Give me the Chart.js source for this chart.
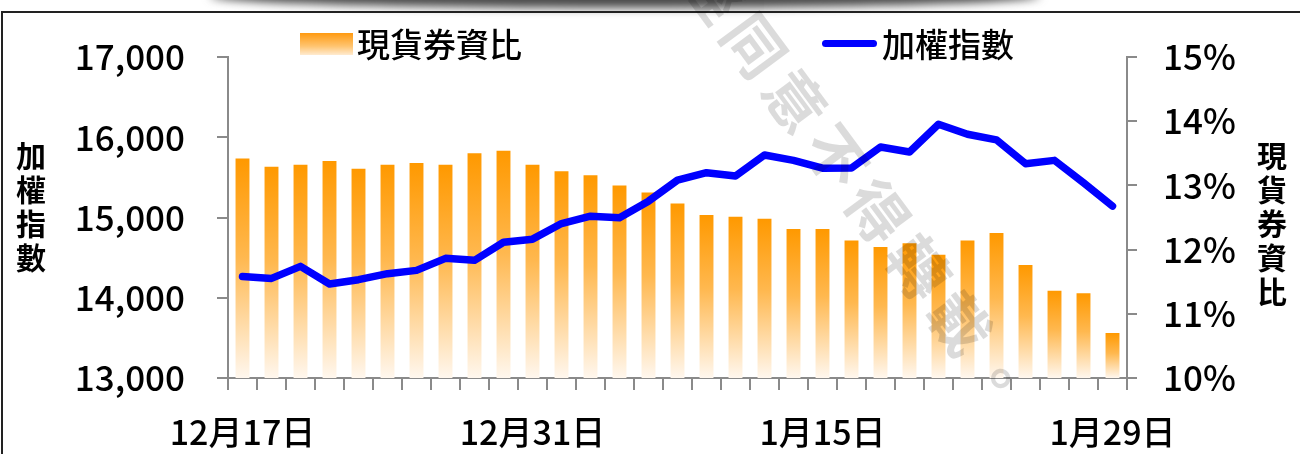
<!DOCTYPE html>
<html>
<head>
<meta charset="utf-8">
<script src="https://cdn.jsdelivr.net/npm/chart.js@4.4.1/dist/chart.umd.min.js"></script>
<style>
  html, body { margin: 0; padding: 0; background: #fff; }
  #wrap { position: relative; width: 1300px; height: 454px; overflow: hidden; background: #fff; }
  #c { position: absolute; left: 0; top: 0; }
  .ov { position: absolute; pointer-events: none; font-family: 'Noto Sans CJK TC', 'Noto Sans', sans-serif; color: #000; white-space: nowrap; }
  #shadow { left: 210px; top: -16px; width: 830px; height: 24px; background: #4a4a4a; border-radius: 50%; filter: blur(5px); }
  #frame { left: 1px; top: 11px; width: 1400px; height: 500px; border-top: 2px solid #222; border-left: 2px solid #222; }
  .ytitle { font-size: 30px; font-weight: bold; line-height: 34px; text-align: center; width: 40px; }
  .legtxt { font-size: 33px; line-height: 33px; font-weight: 500; }
  #wm { left: 698px; top: -66px; font-size: 60px; line-height: 60px; letter-spacing: 9px; font-weight: bold;
        color: rgba(0,0,0,0.14); transform-origin: 0 50%; transform: rotate(53.5deg); }
</style>
</head>
<body>
<div id="wrap">
  <canvas id="c" width="1300" height="454"></canvas>
  <div class="ov" id="shadow"></div>
  <div class="ov" id="frame"></div>
  <div class="ov ytitle" id="ytl" style="left:11px; top:137px;">加<br>權<br>指<br>數</div>
  <div class="ov ytitle" id="ytr" style="left:1252px; top:137px;">現<br>貨<br>券<br>資<br>比</div>
  <div class="ov" id="legBar" style="left:300px; top:33px; width:53px; height:22px; background: linear-gradient(#FF9A10, #FFC470 60%, #FFEBD0);"></div>
  <div class="ov legtxt" id="legBarTxt" style="left:357px; top:27px;">現貨券資比</div>
  <div class="ov" id="legLine" style="left:822px; top:40px; width:55px; height:7px; background:#0000FF; border-radius:4px;"></div>
  <div class="ov legtxt" id="legLineTxt" style="left:882px; top:27px;">加權指數</div>
  <div class="ov" id="wm">經同意不得轉載。</div>
</div>
<script>
// ---- data ----
const dates = ['12月17日','12月18日','12月21日','12月22日','12月23日','12月24日','12月25日','12月28日','12月29日','12月30日','12月31日',
               '1月4日','1月5日','1月6日','1月7日','1月8日','1月11日','1月12日','1月13日','1月14日','1月15日',
               '1月18日','1月19日','1月20日','1月21日','1月22日','1月25日','1月26日','1月27日','1月28日','1月29日'];
const shownDates = ['12月17日','12月31日','1月15日','1月29日'];
const ratioSeriesName = '現貨券資比';
const indexSeriesName = '加權指數';
const ratioValues = [13.42,13.29,13.32,13.38,13.26,13.32,13.35,13.32,13.50,13.54,13.32,
                     13.22,13.16,13.00,12.89,12.72,12.54,12.51,12.48,12.32,12.32,
                     12.14,12.04,12.10,11.92,12.14,12.26,11.76,11.36,11.32,10.70];
const indexValues = [14266,14241,14391,14171,14225,14300,14341,14491,14466,14691,14730,
                     14925,15016,14996,15204,15466,15558,15516,15779,15712,15615,
                     15617,15879,15816,16162,16037,15967,15671,15712,15433,15142];
const leftTicks = [13000,14000,15000,16000,17000];
const rightTicks = [10,11,12,13,14,15];

const FONT = "'Noto Sans CJK TC', 'Noto Sans', sans-serif";

function barGradient(c) {
  const chart = c.chart;
  const area = chart.chartArea;
  if (!area || c.type !== 'data' || !chart.scales.y2) return '#FF9900';
  const s = chart.scales.y2;
  const top = s.getPixelForValue(c.raw);
  const bot = s.getPixelForValue(s.min);
  if (!isFinite(top) || !isFinite(bot) || bot - top < 1) return '#FF9900';
  const g = chart.ctx.createLinearGradient(0, top, 0, bot);
  g.addColorStop(0, '#FF9900');
  g.addColorStop(0.45, '#FFB84F');
  g.addColorStop(1, '#FFF7EE');
  return g;
}

new Chart(document.getElementById('c'), {
  data: {
    labels: dates,
    datasets: [
      {
        type: 'line', label: indexSeriesName, data: indexValues, yAxisID: 'y',
        borderColor: '#0000FF', borderWidth: 7.5, pointRadius: 0, tension: 0,
        borderJoinStyle: 'round', borderCapStyle: 'round', order: 0
      },
      {
        type: 'bar', label: ratioSeriesName, data: ratioValues, yAxisID: 'y2',
        backgroundColor: barGradient, borderWidth: 0,
        categoryPercentage: 1.0, barPercentage: 0.48, order: 1
      }
    ]
  },
  options: {
    responsive: false, animation: false, devicePixelRatio: 1,
    layout: { padding: { top: 57, left: 0, right: 0, bottom: 0 } },
    plugins: { legend: { display: false }, tooltip: { enabled: false } },
    scales: {
      x: {
        type: 'category', offset: true,
        grid: { display: true, drawOnChartArea: false, offset: true, tickLength: 12, color: '#8a8a8a', lineWidth: 2 },
        border: { color: '#8a8a8a', width: 2 },
        ticks: {
          autoSkip: false, maxRotation: 0, minRotation: 0, padding: 22, color: '#000',
          font: { family: FONT, size: 34, weight: '500' },
          callback: function (v, i) { const l = dates[i]; return shownDates.includes(l) ? l : ''; }
        },
        afterFit: function (s) { s.height = 76; }
      },
      y: {
        type: 'linear', position: 'left', min: leftTicks[0], max: leftTicks[leftTicks.length - 1],
        afterBuildTicks: function (s) { s.ticks = leftTicks.map(v => ({ value: v })); },
        grid: { display: true, drawOnChartArea: false, tickLength: 11, color: '#8a8a8a', lineWidth: 2 },
        border: { color: '#8a8a8a', width: 2 },
        ticks: {
          padding: 32, color: '#000', font: { family: FONT, size: 35, weight: '500' },
          callback: function (v) { return Number(v).toLocaleString('en-US'); }
        },
        afterFit: function (s) { s.width = 228; }
      },
      y2: {
        type: 'linear', position: 'right', min: rightTicks[0], max: rightTicks[rightTicks.length - 1],
        afterBuildTicks: function (s) { s.ticks = rightTicks.map(v => ({ value: v })); },
        grid: { display: true, drawOnChartArea: false, tickLength: 10, color: '#8a8a8a', lineWidth: 2 },
        border: { color: '#8a8a8a', width: 2 },
        ticks: {
          padding: 26, color: '#000', font: { family: FONT, size: 35, weight: '500' },
          callback: function (v) { return v + '%'; }
        },
        afterFit: function (s) { s.width = 173; }
      }
    }
  }
});
</script>
</body>
</html>
